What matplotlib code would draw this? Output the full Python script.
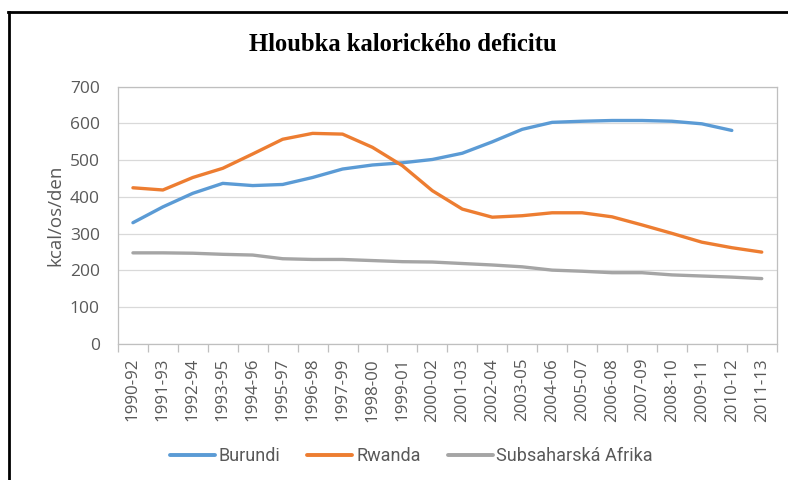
import matplotlib
matplotlib.use("Agg")
import matplotlib.pyplot as plt
from matplotlib.lines import Line2D
import numpy as np

obdobi = ["1990-92", "1991-93", "1992-94", "1993-95", "1994-96", "1995-97",
          "1996-98", "1997-99", "1998-00", "1999-01", "2000-02", "2001-03",
          "2002-04", "2003-05", "2004-06", "2005-07", "2006-08", "2007-09",
          "2008-10", "2009-11", "2010-12", "2011-13"]

burundi = [330, 373, 410, 437, 431, 434, 453, 476, 487, 493, 502, 519,
           550, 584, 603, 606, 608, 608, 606, 599, 581, None]
rwanda = [425, 419, 453, 478, 517, 557, 573, 571, 535, 485, 417, 367,
          345, 349, 357, 357, 346, 324, 301, 277, 262, 250]
subsahara = [248, 248, 247, 244, 242, 232, 230, 230, 227, 224, 223, 219,
             215, 210, 201, 198, 194, 194, 188, 185, 182, 178]

barvy = {"Burundi": "#5B9BD5", "Rwanda": "#ED7D31", "Subsaharská Afrika": "#A5A5A5"}
seda_text = "#595959"
pismo = ["Open Sans", "DejaVu Sans"]

fig = plt.figure(figsize=(7.88, 4.8), dpi=100)
ax = fig.add_axes([0.1497, 0.2833, 0.836, 0.5361])

x = np.arange(len(obdobi))
b = np.array([np.nan if v is None else v for v in burundi], dtype=float)
ax.plot(x, b, color=barvy["Burundi"], lw=2.4, label="Burundi", solid_capstyle="round")
ax.plot(x, rwanda, color=barvy["Rwanda"], lw=2.4, label="Rwanda", solid_capstyle="round")
ax.plot(x, subsahara, color=barvy["Subsaharská Afrika"], lw=2.4,
        label="Subsaharská Afrika", solid_capstyle="round")

ax.set_xlim(-0.5, len(obdobi) - 0.5)
ax.set_ylim(0, 700)
ax.set_yticks(range(0, 701, 100))
ax.grid(axis="y", color="#d9d9d9", lw=0.9)
ax.set_axisbelow(True)

ax.set_xticks(x)
ax.set_xticklabels(obdobi, rotation=90, family=pismo, fontsize=12.2, color=seda_text)
ax.set_xticks(np.arange(-0.5, len(obdobi), 1), minor=True)
ax.tick_params(axis="x", which="major", length=0, pad=10)
ax.tick_params(axis="x", which="minor", length=6, color="#bfbfbf", width=0.9)
ax.tick_params(axis="y", length=0, pad=13, labelcolor=seda_text)
for t in ax.get_yticklabels():
    t.set_family(pismo)
    t.set_fontsize(12.5)

for s in ax.spines.values():
    s.set_color("#bfbfbf")
    s.set_linewidth(0.9)

ax.set_ylabel("kcal/os/den", family=pismo, fontsize=13.5, color=seda_text, labelpad=4)

fig.text(0.511, 0.907, "Hloubka kalorického deficitu", ha="center", va="center",
         family=["Liberation Serif", "DejaVu Serif"], fontweight="bold", fontsize=17.7)

leg = fig.legend(loc="center", bbox_to_anchor=(0.522, 0.05), ncol=3, frameon=False,
                 handlelength=2.5, handletextpad=0.2, columnspacing=1.5,
                 prop={"family": ["Roboto", "DejaVu Sans"], "size": 13})
for t in leg.get_texts():
    t.set_color(seda_text)
for h in leg.get_lines():
    h.set_linewidth(2.8)

# cerny ramecek vlevo a nahore
fig.add_artist(Line2D([0.0115, 0.0115], [0.0, 0.975], color="black", lw=2,
                      transform=fig.transFigure))
fig.add_artist(Line2D([0.0105, 1.0], [0.975, 0.975], color="black", lw=2,
                      transform=fig.transFigure))

fig.savefig("out.png", dpi=100)
